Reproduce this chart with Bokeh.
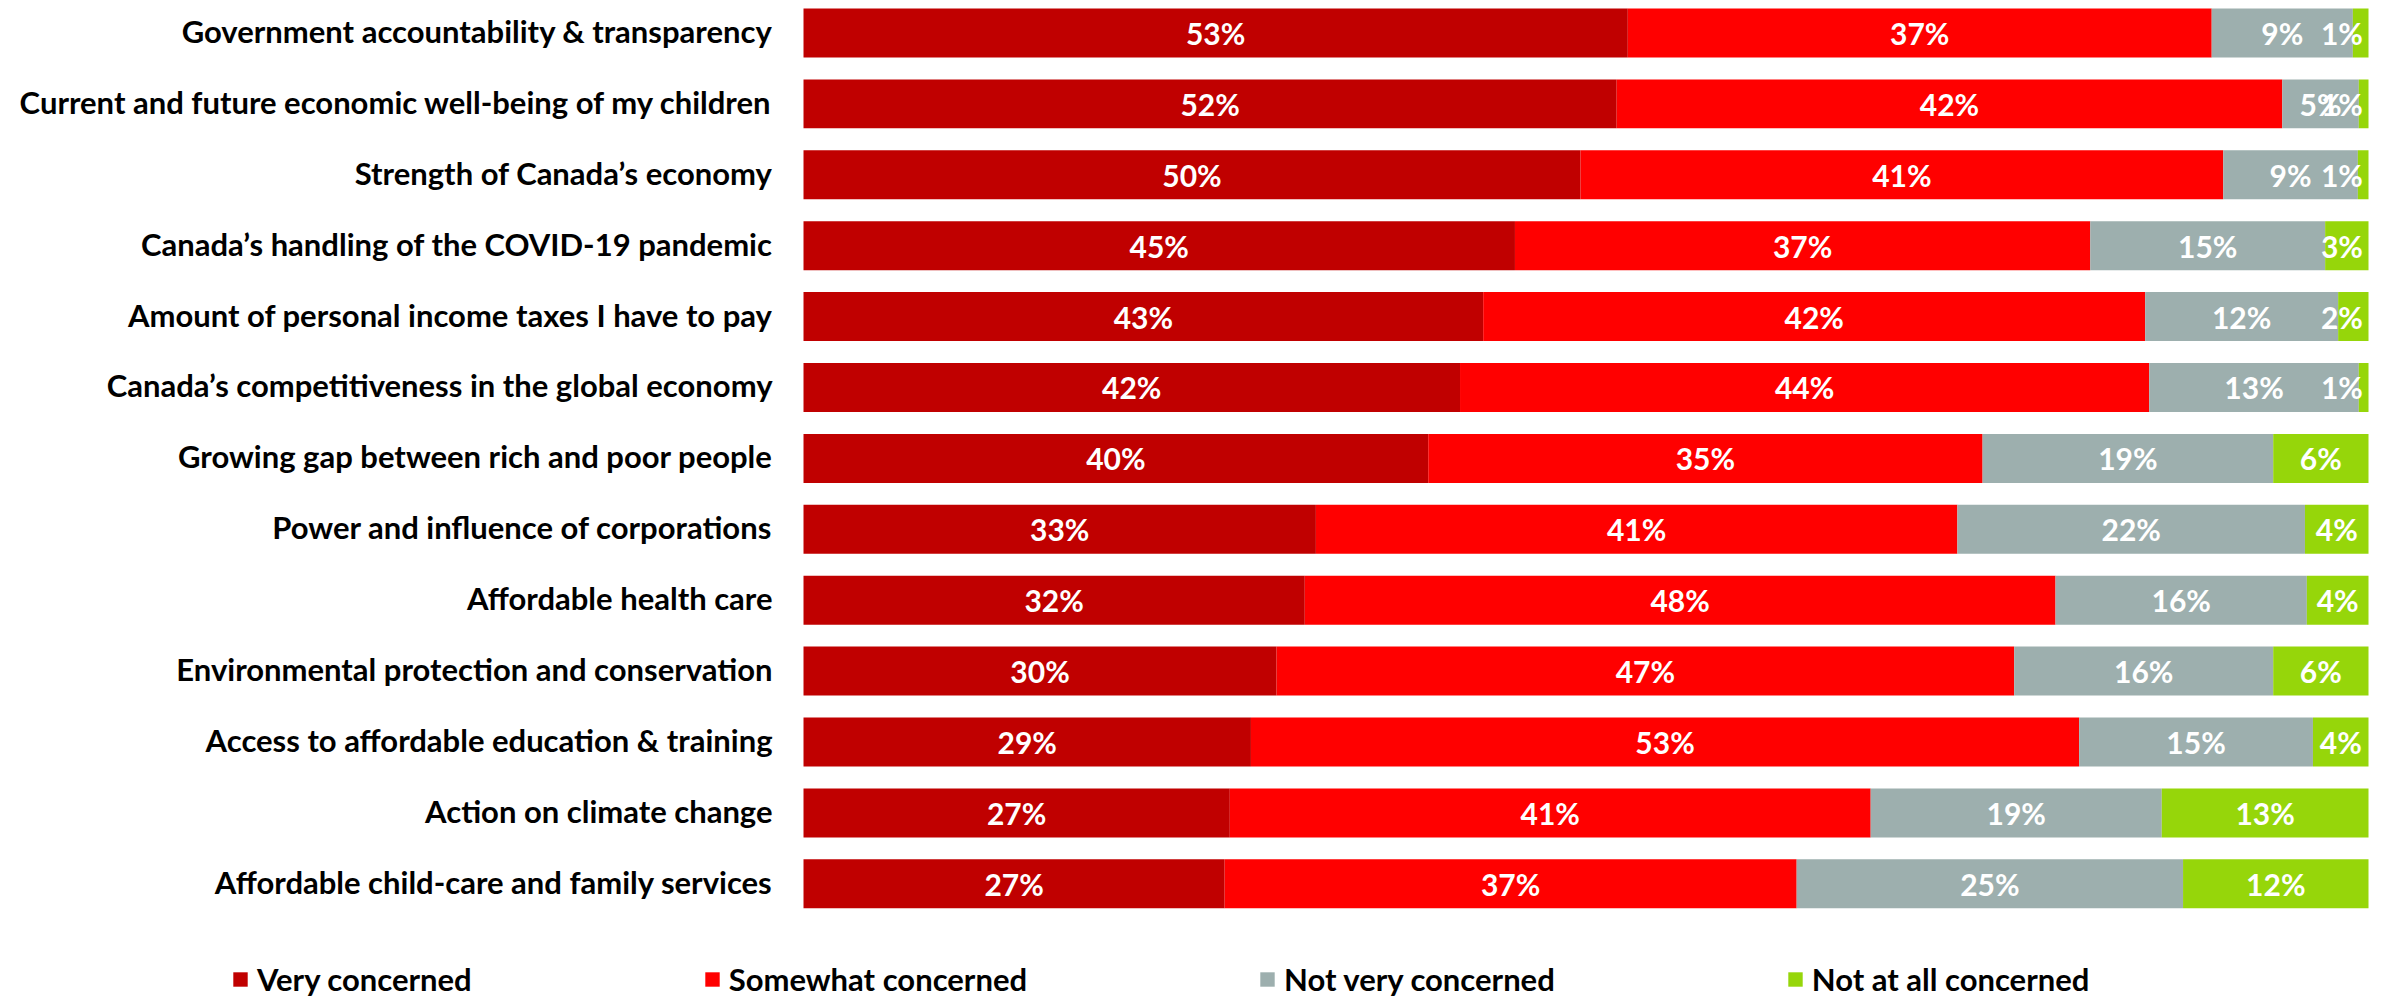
from bokeh.plotting import figure
from bokeh.models import Range1d, ColumnDataSource, Legend, LegendItem
from bokeh.core.properties import value
from bokeh.embed import file_html
from bokeh.resources import INLINE

categories = [
    "Government accountability & transparency",
    "Current and future economic well-being of my children",
    "Strength of Canada\u2019s economy",
    "Canada\u2019s handling of the COVID-19 pandemic",
    "Amount of personal income taxes I have to pay",
    "Canada\u2019s competitiveness in the global economy",
    "Growing gap between rich and poor people",
    "Power and influence of corporations",
    "Affordable health care",
    "Environmental protection and conservation",
    "Access to affordable education & training",
    "Action on climate change",
    "Affordable child-care and family services",
]
# shares (percent of respondents)
very = [52.67, 51.96, 49.65, 45.46, 43.43, 41.95, 39.92, 32.74, 32.03, 30.23, 28.59, 27.24, 26.91]
somewhat = [37.31, 42.53, 41.07, 36.76, 42.30, 44.04, 35.42, 40.99, 47.97, 47.13, 52.92, 40.95, 36.55]
not_very = [9.02, 4.89, 8.60, 15.01, 12.33, 13.39, 18.57, 22.21, 16.06, 16.55, 14.94, 18.60, 24.69]
not_at_all = [1.00, 0.62, 0.68, 2.77, 1.94, 0.62, 6.09, 4.06, 3.94, 6.09, 3.55, 13.21, 11.85]
# printed labels
very_lbl = [53, 52, 50, 45, 43, 42, 40, 33, 32, 30, 29, 27, 27]
somewhat_lbl = [37, 42, 41, 37, 42, 44, 35, 41, 48, 47, 53, 41, 37]
not_very_lbl = [9, 5, 9, 15, 12, 13, 19, 22, 16, 16, 15, 19, 25]
not_at_all_lbl = [1, 1, 1, 3, 2, 1, 6, 4, 4, 6, 4, 13, 12]

series_names = ["Very concerned", "Somewhat concerned", "Not very concerned", "Not at all concerned"]
colors = ["#C00000", "#FF0000", "#9DAFAE", "#96D60A"]

FONT = "Lato"
n = len(categories)
ys = list(range(n))

src = ColumnDataSource(dict(y=ys, cat=categories, very=very, somewhat=somewhat,
                            not_very=not_very, not_at_all=not_at_all))

p = figure(width=2381, height=999,
           x_range=Range1d(-51.31, 100.83), y_range=Range1d(13.632, -0.458),
           x_axis_location=None, y_axis_location=None,
           output_backend="svg", toolbar_location=None, min_border=0)
p.grid.visible = False
p.outline_line_color = None
p.background_fill_color = "white"

rends = p.hbar_stack(["very", "somewhat", "not_very", "not_at_all"], y="y", height=0.691,
                     color=colors, line_width=0, source=src)

# segment labels
cols = [very, somewhat, not_very, not_at_all]
lbls = [very_lbl, somewhat_lbl, not_very_lbl, not_at_all_lbl]
lx, ly, lt = [], [], []
for i in range(n):
    left = 0.0
    for k in range(4):
        w = cols[k][i]
        c = left + w / 2.0
        if k == 3:
            c = min(c, 98.3)
        lx.append(c)
        ly.append(ys[i])
        lt.append(f"{lbls[k][i]}%")
        left += w
p.text(x=lx, y=ly, text=lt, text_font=value(FONT), text_font_style="bold",
       text_font_size="30px", text_color="white", text_align="center",
       text_baseline="middle")

# category labels
p.text(x=[-1.98] * n, y=ys, text=categories, text_font=value(FONT), text_font_style="bold",
       text_font_size="31px", text_color="black", text_align="right",
       text_baseline="middle", y_offset=-2)

items = [LegendItem(label=series_names[k], renderers=[rends[k]]) for k in range(4)]
legend = Legend(items=items, orientation="horizontal", location=(231, 1),
                spacing=231, glyph_width=18, glyph_height=18, label_standoff=8,
                padding=0, margin=0, border_line_color=None, background_fill_alpha=0,
                label_text_font=FONT, label_text_font_style="bold",
                label_text_font_size="31px", label_text_color="black")
p.add_layout(legend, "center")

open("out.html", "w").write(file_html(p, INLINE))
